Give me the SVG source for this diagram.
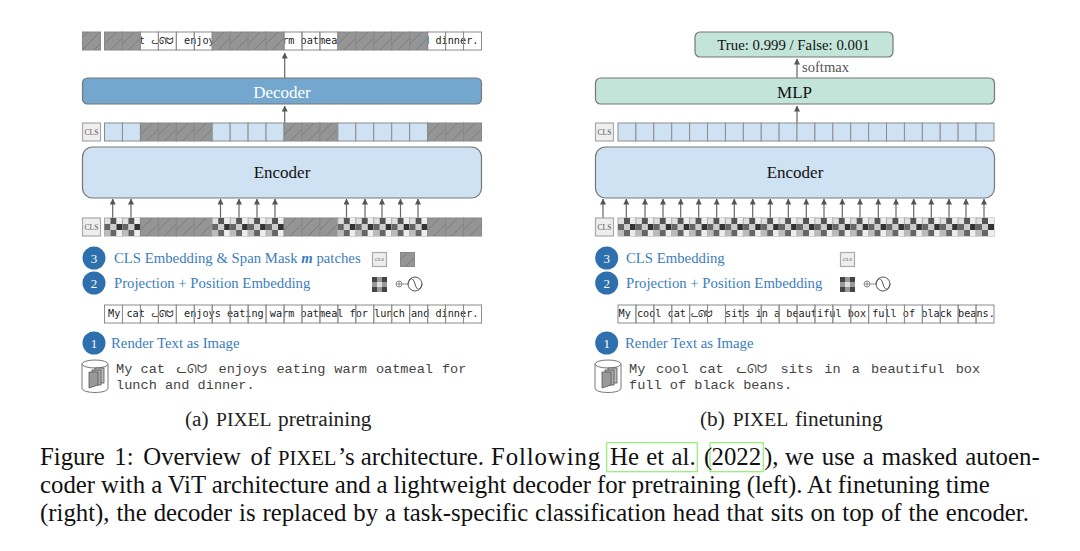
<svg xmlns="http://www.w3.org/2000/svg" xmlns:xlink="http://www.w3.org/1999/xlink" width="1080" height="551" viewBox="0 0 1080 551">
<style>
.serif{font-family:"Liberation Serif","Times New Roman",serif}
.blk{stroke:#777;stroke-width:1.2}
.lbl{font-family:"Liberation Serif",serif;font-size:17px;text-anchor:middle;fill:#111}
.step{font-family:"Liberation Serif",serif;font-size:14.75px;fill:#3b7dbb}
.num{font-family:"Liberation Serif",serif;font-size:13px;fill:#fff;text-anchor:middle}
.badge{fill:#2e6fad}
.cls{fill:#eee;stroke:#aaa;stroke-width:1.2}
.clst{font-family:"Liberation Serif",serif;font-size:7.5px;fill:#555;text-anchor:middle}
.mono{font-family:"DejaVu Sans Mono",monospace;font-size:10.2px;fill:#222}
.doc{font-family:"Liberation Mono",monospace;font-size:13.6px;fill:#444}
.cat{font-family:"DejaVu Sans","Noto Sans",sans-serif}
.cap{font-family:"Liberation Serif",serif;font-size:24.8px;fill:#111}
.sub{font-family:"Liberation Serif",serif;font-size:21.3px;fill:#222}
.sc{font-size:.83em}
.sc2{font-size:.92em}
.arr{stroke:#666;stroke-width:1.2;fill:none;marker-end:url(#tip)}
.cite{fill:none;stroke:#90ee70;stroke-width:1.2}
</style>
<defs>
<marker id="tip" markerUnits="userSpaceOnUse" markerWidth="6" markerHeight="7" refX="5.6" refY="3" orient="auto"><path d="M0 0L6 3L0 6Z" fill="#555"/></marker>
<pattern id="hat" patternUnits="userSpaceOnUse" width="12" height="12"><rect width="12" height="12" fill="#959595"/><path d="M-1 13L13 -1" stroke="#7a7a7a" stroke-width="1"/></pattern>
<g id="h"><rect width="18" height="18" fill="url(#hat)" stroke="#888" stroke-width="1"/></g>
<g id="b"><rect width="18" height="18" fill="#cfe2f3" stroke="#8c8c8c" stroke-width="1"/></g>
<g id="w"><rect width="18" height="18" fill="none" stroke="#8c8c8c" stroke-width="1"/></g>
<g id="k"><rect width="18" height="18" fill="#e0e0e0" stroke="#aaa" stroke-width="1"/><rect x="6" width="6" height="6" fill="#555"/><rect x="12" width="6" height="6" fill="#ededed"/><rect y="6" width="6" height="6" fill="#666"/><rect x="6" y="6" width="6" height="6" fill="#ccc"/><rect x="12" y="6" width="6" height="6" fill="#333"/><rect y="12" width="6" height="6" fill="#bbb"/><rect x="6" y="12" width="6" height="6" fill="#666"/><rect x="12" y="12" width="6" height="6" fill="#ededed"/></g>
<g id="kl"><rect width="15" height="15" fill="#444"/><rect x="5" width="5" height="15" fill="#999"/><rect y="5" width="15" height="5" fill="#999"/><rect x="5" y="5" width="5" height="5" fill="#ddd"/></g>
<g id="pos"><circle cx="0" cy="0" r="3" fill="none" stroke="#777" stroke-width=".8"/><path d="M-3 0H3M0 -3V3M3 0H9" stroke="#777" stroke-width=".8" fill="none"/><circle cx="16" cy="0" r="7" fill="none" stroke="#555" stroke-width="1"/><path d="M9 0C11 -7 14 -7 16 0S21 7 23 0" fill="none" stroke="#555" stroke-width="1"/></g>
<g id="cyl"><path d="M1 5V29C1 35 27 35 27 29V5" fill="#fff" stroke="#777" stroke-width="1"/><ellipse cx="14" cy="5" rx="13" ry="4" fill="#fff" stroke="#777" stroke-width="1"/><rect x="14" y="9" width="9" height="15" fill="#bbb" stroke="#555" stroke-width=".8"/><rect x="11" y="11" width="9" height="15" fill="#aaa" stroke="#555" stroke-width=".8"/><path d="M8 13H17V26L8 29Z" fill="#999" stroke="#555" stroke-width=".8"/></g>
</defs>

<g id="connectors">
<path class="arr" d="M284.7 78V53"/><path class="arr" d="M284.7 123V106"/>
<path class="arr" d="M112.7 218V199"/><path class="arr" d="M131 218V199"/><path class="arr" d="M220.5 218V199"/><path class="arr" d="M239 218V199"/><path class="arr" d="M257 218V199"/><path class="arr" d="M275 218V199"/><path class="arr" d="M346.5 218V199"/><path class="arr" d="M365 218V199"/><path class="arr" d="M382 218V199"/><path class="arr" d="M400.5 218V199"/><path class="arr" d="M418 218V199"/>
<path class="arr" d="M797 78V59"/><path class="arr" d="M797 123V106"/>
<path class="arr" d="M603 218V199"/><path class="arr" d="M626.3 218V199"/><path class="arr" d="M645 218V199"/><path class="arr" d="M663 218V199"/><path class="arr" d="M680.7 218V199"/><path class="arr" d="M698.7 218V199"/><path class="arr" d="M716.7 218V199"/><path class="arr" d="M734.3 218V199"/><path class="arr" d="M752.7 218V199"/><path class="arr" d="M770.3 218V199"/><path class="arr" d="M788.3 218V199"/><path class="arr" d="M806.3 218V199"/><path class="arr" d="M824 218V199"/><path class="arr" d="M842.3 218V199"/><path class="arr" d="M860 218V199"/><path class="arr" d="M878.3 218V199"/><path class="arr" d="M896 218V199"/><path class="arr" d="M913.7 218V199"/><path class="arr" d="M931.3 218V199"/><path class="arr" d="M949 218V199"/><path class="arr" d="M966 218V199"/><path class="arr" d="M984 218V199"/>
</g>

<g id="left-output">
<rect x="82.5" y="32" width="18" height="18" fill="url(#hat)" stroke="#888"/>
<rect x="104.5" y="32" width="377" height="18" fill="#fff"/>
<text class="mono" y="44"><tspan x="108">My cat </tspan><tspan class="cat" x="151.5" font-size="8.5">ᓚᘏᗢ</tspan><tspan x="184">enjoys eating warm oatmeal for lunch and dinner.</tspan></text>
<g transform="translate(0 32)"><use href="#h" x="104.5"/><use href="#h" x="122.45"/><use href="#w" x="140.4"/><use href="#w" x="158.35"/><use href="#w" x="176.3"/><use href="#w" x="194.25"/><use href="#h" x="212.2"/><use href="#h" x="230.15"/><use href="#h" x="248.1"/><use href="#h" x="266.05"/><use href="#w" x="284"/><use href="#w" x="301.95"/><use href="#w" x="319.9"/><use href="#h" x="337.85"/><use href="#h" x="355.8"/><use href="#h" x="373.75"/><use href="#h" x="391.7"/><use href="#h" x="409.65"/><use href="#w" x="427.6"/><use href="#w" x="445.55"/><use href="#w" x="463.5"/></g>
</g>
<g id="left-decoder"><rect class="blk" x="82.5" y="78" width="399" height="26" rx="5" fill="#74a7ce"/><text class="lbl" x="282" y="97.5" style="fill:#fff">Decoder</text></g>
<g id="left-latent"><rect class="cls" x="82.5" y="123" width="18" height="18"/><text class="clst" x="91.5" y="134.5">CLS</text>
<g transform="translate(0 123)"><use href="#b" x="104.5"/><use href="#b" x="122.45"/><use href="#h" x="140.4"/><use href="#h" x="158.35"/><use href="#h" x="176.3"/><use href="#h" x="194.25"/><use href="#b" x="212.2"/><use href="#b" x="230.15"/><use href="#b" x="248.1"/><use href="#b" x="266.05"/><use href="#h" x="284"/><use href="#h" x="301.95"/><use href="#h" x="319.9"/><use href="#b" x="337.85"/><use href="#b" x="355.8"/><use href="#b" x="373.75"/><use href="#b" x="391.7"/><use href="#b" x="409.65"/><use href="#h" x="427.6"/><use href="#h" x="445.55"/><use href="#h" x="463.5"/></g></g>
<g id="left-encoder"><rect class="blk" x="82.5" y="147" width="399" height="51" rx="10" fill="#cfe2f3"/><text class="lbl" x="282" y="178">Encoder</text></g>
<g id="left-input"><rect class="cls" x="82.5" y="218" width="18" height="18"/><text class="clst" x="91.5" y="229.5">CLS</text>
<g transform="translate(0 218)"><use href="#k" x="104.5"/><use href="#k" x="122.45"/><use href="#h" x="140.4"/><use href="#h" x="158.35"/><use href="#h" x="176.3"/><use href="#h" x="194.25"/><use href="#k" x="212.2"/><use href="#k" x="230.15"/><use href="#k" x="248.1"/><use href="#k" x="266.05"/><use href="#h" x="284"/><use href="#h" x="301.95"/><use href="#h" x="319.9"/><use href="#k" x="337.85"/><use href="#k" x="355.8"/><use href="#k" x="373.75"/><use href="#k" x="391.7"/><use href="#k" x="409.65"/><use href="#h" x="427.6"/><use href="#h" x="445.55"/><use href="#h" x="463.5"/></g></g>
<g id="left-step3"><circle class="badge" cx="94" cy="258" r="11.5"/><text class="num" x="94" y="262.5">3</text><text class="step" x="114" y="263">CLS Embedding &amp; Span Mask <tspan font-style="italic" font-weight="bold">m</tspan> patches</text>
<rect class="cls" x="372.5" y="252.5" width="14" height="14"/><text class="clst" x="379.5" y="261" style="font-size:5px">CLS</text><rect x="400.5" y="252.5" width="14" height="14" fill="url(#hat)" stroke="#888"/></g>
<g id="left-step2"><circle class="badge" cx="94" cy="283" r="11.5"/><text class="num" x="94" y="287.5">2</text><text class="step" x="114" y="288">Projection + Position Embedding</text>
<use href="#kl" x="372" y="277"/><use href="#pos" x="399" y="284"/></g>
<g id="left-text-row"><rect x="104.5" y="305" width="377" height="18" fill="#fff"/><text class="mono" y="317"><tspan x="108">My cat </tspan><tspan class="cat" x="151.5" font-size="8.5">ᓚᘏᗢ</tspan><tspan x="184">enjoys eating warm oatmeal for lunch and dinner.</tspan></text>
<g transform="translate(0 305)"><use href="#w" x="104.5"/><use href="#w" x="122.45"/><use href="#w" x="140.4"/><use href="#w" x="158.35"/><use href="#w" x="176.3"/><use href="#w" x="194.25"/><use href="#w" x="212.2"/><use href="#w" x="230.15"/><use href="#w" x="248.1"/><use href="#w" x="266.05"/><use href="#w" x="284"/><use href="#w" x="301.95"/><use href="#w" x="319.9"/><use href="#w" x="337.85"/><use href="#w" x="355.8"/><use href="#w" x="373.75"/><use href="#w" x="391.7"/><use href="#w" x="409.65"/><use href="#w" x="427.6"/><use href="#w" x="445.55"/><use href="#w" x="463.5"/></g></g>
<g id="left-step1"><circle class="badge" cx="94" cy="343" r="11.5"/><text class="num" x="94" y="347.5">1</text><text class="step" x="111" y="348">Render Text as Image</text></g>
<g id="left-doc"><use href="#cyl" x="81" y="359"/><text class="doc" y="373"><tspan x="116">My cat </tspan><tspan class="cat" x="176.5" font-size="12">ᓚᘏᗢ</tspan><tspan x="218.5" word-spacing="0.8">enjoys eating warm oatmeal for</tspan></text><text class="doc" x="116" y="389">lunch and dinner.</text></g>

<g id="right-output"><rect class="blk" x="695" y="32" width="198" height="25" rx="5" fill="#c3e4d9"/><text class="lbl" x="793.5" y="50" style="font-size:14.8px">True: 0.999 / False: 0.001</text></g>
<text id="softmax" class="serif" x="802" y="72" font-size="14.6" fill="#555">softmax</text>
<g id="right-mlp"><rect class="blk" x="595.5" y="78" width="399" height="26" rx="5" fill="#c3e4d9"/><text class="lbl" x="794.5" y="97.5">MLP</text></g>
<g id="right-latent"><rect class="cls" x="595.5" y="123" width="18" height="18"/><text class="clst" x="604.5" y="134.5">CLS</text>
<g transform="translate(0 123)"><use href="#b" x="618"/><use href="#b" x="635.9"/><use href="#b" x="653.8"/><use href="#b" x="671.7"/><use href="#b" x="689.6"/><use href="#b" x="707.5"/><use href="#b" x="725.4"/><use href="#b" x="743.3"/><use href="#b" x="761.2"/><use href="#b" x="779.1"/><use href="#b" x="797"/><use href="#b" x="814.9"/><use href="#b" x="832.8"/><use href="#b" x="850.7"/><use href="#b" x="868.6"/><use href="#b" x="886.5"/><use href="#b" x="904.4"/><use href="#b" x="922.3"/><use href="#b" x="940.2"/><use href="#b" x="958.1"/><use href="#b" x="976"/></g></g>
<g id="right-encoder"><rect class="blk" x="595.5" y="147" width="399" height="51" rx="10" fill="#cfe2f3"/><text class="lbl" x="795" y="178">Encoder</text></g>
<g id="right-input"><rect class="cls" x="595.5" y="218" width="18" height="18"/><text class="clst" x="604.5" y="229.5">CLS</text>
<g transform="translate(0 218)"><use href="#k" x="618"/><use href="#k" x="635.9"/><use href="#k" x="653.8"/><use href="#k" x="671.7"/><use href="#k" x="689.6"/><use href="#k" x="707.5"/><use href="#k" x="725.4"/><use href="#k" x="743.3"/><use href="#k" x="761.2"/><use href="#k" x="779.1"/><use href="#k" x="797"/><use href="#k" x="814.9"/><use href="#k" x="832.8"/><use href="#k" x="850.7"/><use href="#k" x="868.6"/><use href="#k" x="886.5"/><use href="#k" x="904.4"/><use href="#k" x="922.3"/><use href="#k" x="940.2"/><use href="#k" x="958.1"/><use href="#k" x="976"/></g></g>
<g id="right-step3"><circle class="badge" cx="606.7" cy="258" r="11.5"/><text class="num" x="606.7" y="262.5">3</text><text class="step" x="626" y="263">CLS Embedding</text><rect class="cls" x="840.5" y="252.5" width="14" height="14"/><text class="clst" x="847.5" y="261" style="font-size:5px">CLS</text></g>
<g id="right-step2"><circle class="badge" cx="606.7" cy="283" r="11.5"/><text class="num" x="606.7" y="287.5">2</text><text class="step" x="626" y="288">Projection + Position Embedding</text><use href="#kl" x="840" y="277"/><use href="#pos" x="867" y="284"/></g>
<g id="right-text-row"><rect x="618" y="305" width="376" height="18" fill="#fff"/><text class="mono" y="317"><tspan x="618.5">My cool cat </tspan><tspan class="cat" x="691" font-size="8.5">ᓚᘏᗢ</tspan><tspan x="725">sits in a beautiful box full of black beans.</tspan></text>
<g transform="translate(0 305)"><use href="#w" x="618"/><use href="#w" x="635.9"/><use href="#w" x="653.8"/><use href="#w" x="671.7"/><use href="#w" x="689.6"/><use href="#w" x="707.5"/><use href="#w" x="725.4"/><use href="#w" x="743.3"/><use href="#w" x="761.2"/><use href="#w" x="779.1"/><use href="#w" x="797"/><use href="#w" x="814.9"/><use href="#w" x="832.8"/><use href="#w" x="850.7"/><use href="#w" x="868.6"/><use href="#w" x="886.5"/><use href="#w" x="904.4"/><use href="#w" x="922.3"/><use href="#w" x="940.2"/><use href="#w" x="958.1"/><use href="#w" x="976"/></g></g>
<g id="right-step1"><circle class="badge" cx="606.7" cy="343" r="11.5"/><text class="num" x="606.7" y="347.5">1</text><text class="step" x="625" y="348">Render Text as Image</text></g>
<g id="right-doc"><use href="#cyl" x="594" y="359"/><text class="doc" y="373"><tspan x="629" word-spacing="2.5">My cool cat </tspan><tspan class="cat" x="736.5" font-size="12">ᓚᘏᗢ</tspan><tspan x="780.5" word-spacing="3">sits in a beautiful box</tspan></text><text class="doc" x="629" y="389">full of black beans.</text></g>

<g id="captions">
<text class="sub" y="426"><tspan x="185">(a)</tspan><tspan class="sc2" x="216">PIXEL</tspan><tspan x="278">pretraining</tspan></text>
<text class="sub" y="426"><tspan x="700">(b)</tspan><tspan class="sc2" x="732.7">PIXEL</tspan><tspan x="795">finetuning</tspan></text>
<rect class="cite" x="606.7" y="442.7" width="90.6" height="29"/>
<rect class="cite" x="710" y="442.7" width="53.3" height="29"/>
<text class="cap" y="464.5"><tspan x="40" word-spacing="3.4">Figure 1: Overview of</tspan><tspan class="sc" x="278">PIXEL</tspan><tspan x="338">’s architecture.</tspan><tspan x="491" letter-spacing=".9">Following</tspan><tspan x="610" word-spacing="1.2">He et al.</tspan><tspan x="704">(</tspan><tspan x="711.5">2022</tspan><tspan x="764">),</tspan><tspan x="785" word-spacing="1.7">we use a masked autoen-</tspan></text>
<text class="cap" x="40" y="493" word-spacing="-.2">coder with a ViT architecture and a lightweight decoder for pretraining (left). At finetuning time</text>
<text class="cap" x="40" y="520.5" word-spacing=".7">(right), the decoder is replaced by a task-specific classification head that sits on top of the encoder.</text>
</g>
</svg>
